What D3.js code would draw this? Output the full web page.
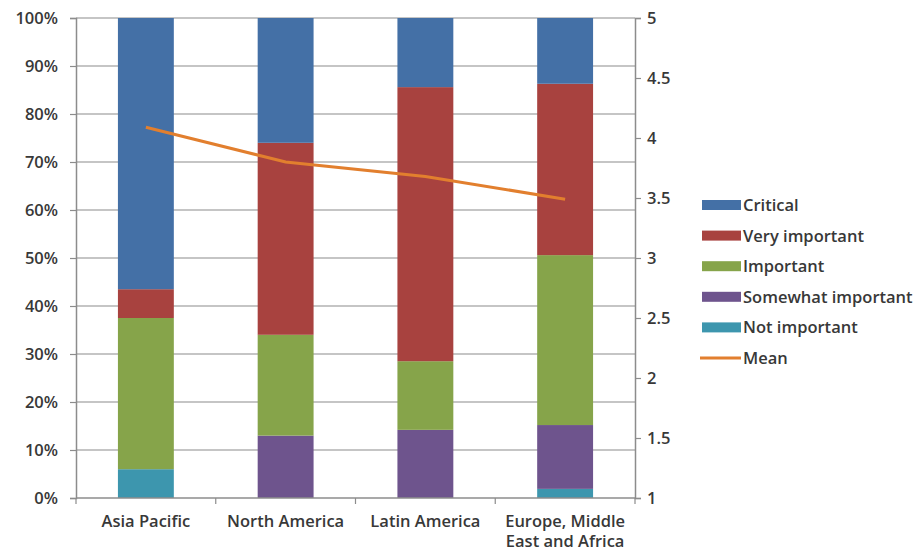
<!DOCTYPE html>
<html><head><meta charset="utf-8">
<script src="https://cdn.jsdelivr.net/npm/d3@7"></script>
<style>
body{margin:0;background:#fff;}
text{font-family:"Open Sans",Lato,sans-serif;font-weight:600;fill:#383838;}
</style></head>
<body><svg id="c" width="921" height="548"></svg>
<script>
const categories = ["Asia Pacific","North America","Latin America","Europe, Middle East and Africa"];
const categoryLines = [["Asia Pacific"],["North America"],["Latin America"],["Europe, Middle","East and Africa"]];
const seriesNames = ["Not important","Somewhat important","Important","Very important","Critical"];
const notImportant = [6, 0, 0, 1.9];
const somewhatImportant = [0, 13, 14.2, 13.3];
const important = [31.5, 21, 14.3, 35.4];
const veryImportant = [6, 40, 57.1, 35.7];
const critical = [56.5, 26, 14.4, 13.7];
const mean = [4.09, 3.8, 3.68, 3.49];
const leftTicks = [0,10,20,30,40,50,60,70,80,90,100];
const rightTicks = [1,1.5,2,2.5,3,3.5,4,4.5,5];
const colors = {"Critical":"#4470a6","Very important":"#a8423f","Important":"#86a44a","Somewhat important":"#6e548d","Not important":"#3d96ae","Mean":"#e27f2e"};

const svg = d3.select("#c");
const L=76, R=635, T=18, B=498;
const FS = "16.5px";
const x = d3.scaleBand().domain(categories).range([L,R]).paddingInner(0.6).paddingOuter(0.3);
const y = d3.scaleLinear().domain([0,100]).range([B,T]);
const y2 = d3.scaleLinear().domain([1,5]).range([B,T]);

// gridlines
svg.append("g").selectAll("line").data(leftTicks.slice(1)).join("line")
  .attr("x1",L).attr("x2",R).attr("y1",d=>y(d)).attr("y2",d=>y(d))
  .attr("stroke","#8c8c8c").attr("stroke-width",1.2);

// stacked bars
const rows = categories.map((c,i)=>({cat:c,"Not important":notImportant[i],"Somewhat important":somewhatImportant[i],"Important":important[i],"Very important":veryImportant[i],"Critical":critical[i]}));
const stack = d3.stack().keys(seriesNames)(rows);
svg.append("g").selectAll("g").data(stack).join("g").attr("fill",d=>colors[d.key])
  .selectAll("rect").data(d=>d).join("rect")
  .attr("x",d=>x(d.data.cat)).attr("width",x.bandwidth())
  .attr("y",d=>y(d[1])).attr("height",d=>Math.max(0,y(d[0])-y(d[1])));

// axes
const ax = svg.append("g").attr("transform",`translate(${L},0)`)
  .call(d3.axisLeft(y).tickValues(leftTicks).tickFormat(d=>d+"%").tickSize(6).tickPadding(6));
ax.select(".domain").attr("stroke","#8c8c8c").attr("stroke-width",1.5);
ax.selectAll(".tick line").attr("stroke","#8c8c8c").attr("stroke-width",1.2);
ax.selectAll("text").style("font-size",FS).attr("x",-18);

const ar = svg.append("g").attr("transform",`translate(${R},0)`)
  .call(d3.axisRight(y2).tickValues(rightTicks).tickFormat(d3.format("")).tickSize(6).tickPadding(7));
ar.select(".domain").attr("stroke","#8c8c8c").attr("stroke-width",1.5);
ar.selectAll(".tick line").attr("stroke","#8c8c8c").attr("stroke-width",1.2);
ar.selectAll("text").style("font-size",FS).attr("x",12);

// x axis line & ticks between categories
svg.append("line").attr("x1",L).attr("x2",R).attr("y1",B).attr("y2",B).attr("stroke","#8c8c8c").attr("stroke-width",1.5);
svg.append("g").selectAll("line").data(d3.range(5)).join("line")
  .attr("x1",d=>L+d*(R-L)/4).attr("x2",d=>L+d*(R-L)/4).attr("y1",B).attr("y2",B+6)
  .attr("stroke","#8c8c8c").attr("stroke-width",1.2);
svg.append("g").selectAll("text").data(categories).join("text")
  .attr("text-anchor","middle").style("font-size",FS)
  .attr("transform",d=>`translate(${x(d)+x.bandwidth()/2},${B+29})`)
  .each(function(d,i){
    d3.select(this).selectAll("tspan").data(categoryLines[i]).join("tspan")
      .attr("x",0).attr("dy",(t,j)=>j===0?0:19.5).text(t=>t);
  });

// mean line
const line = d3.line().x((d,i)=>x(categories[i])+x.bandwidth()/2).y(d=>y2(d));
svg.append("path").datum(mean).attr("d",line).attr("fill","none")
  .attr("stroke",colors["Mean"]).attr("stroke-width",3);

// legend
const legendItems = ["Critical","Very important","Important","Somewhat important","Not important","Mean"];
const lg = svg.append("g");
legendItems.forEach((k,i)=>{
  const yy = 205 + i*30.6;
  if(k==="Mean"){
    lg.append("line").attr("x1",700).attr("x2",741).attr("y1",yy).attr("y2",yy).attr("stroke",colors[k]).attr("stroke-width",3);
  } else {
    lg.append("rect").attr("x",702).attr("y",yy-5).attr("width",39).attr("height",10).attr("fill",colors[k]);
  }
  lg.append("text").attr("x",743).attr("y",yy+6).style("font-size",FS).text(k);
});
</script></body></html>
